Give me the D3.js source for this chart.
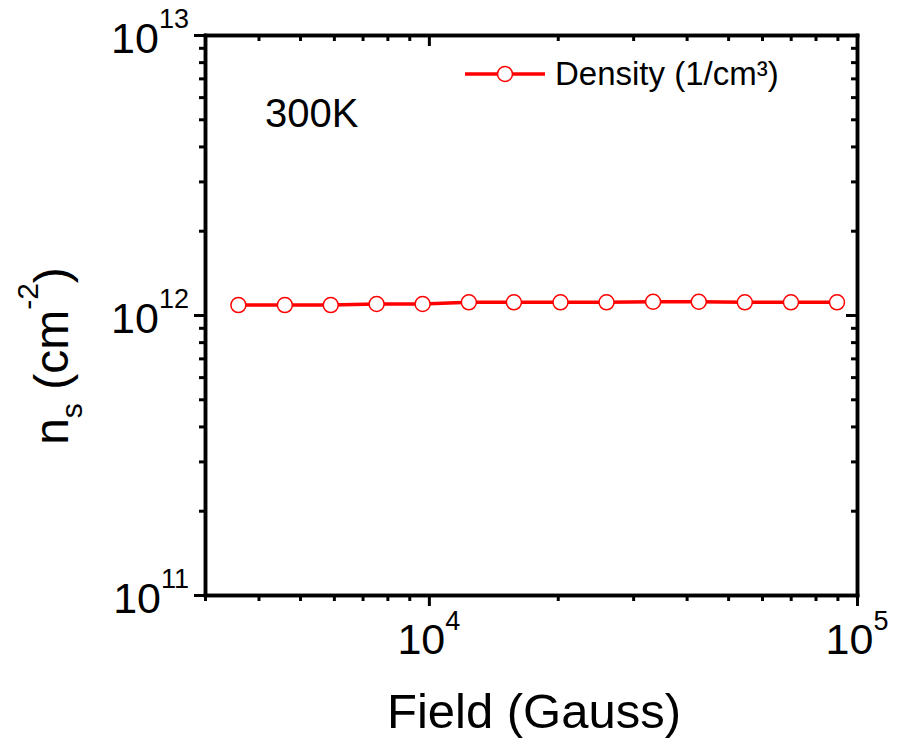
<!DOCTYPE html>
<html>
<head>
<meta charset="utf-8">
<script src="https://cdn.jsdelivr.net/npm/d3@7"></script>
<style>
  body { margin: 0; background: #fff; }
  svg { display: block; font-family: "Liberation Sans", Arial, sans-serif; }
</style>
</head>
<body>
<svg id="chart"></svg>
<script>
// field (Gauss) and sheet density (cm^-2)
const fields  = [3590, 4610, 5900, 7550, 9670, 12400, 15800, 20300, 26000, 33400, 42700, 54700, 70100, 89800];
const density = [1.085e12, 1.085e12, 1.085e12, 1.095e12, 1.095e12, 1.11e12, 1.11e12, 1.11e12, 1.11e12, 1.115e12, 1.115e12, 1.11e12, 1.11e12, 1.11e12];

const xMajor = [1e4, 1e5];
const xMinor = [3000, 4000, 5000, 6000, 7000, 8000, 9000, 20000, 30000, 40000, 50000, 60000, 70000, 80000, 90000];
const yMajor = [1e11, 1e12, 1e13];
const yMinor = [2e11, 3e11, 4e11, 5e11, 6e11, 7e11, 8e11, 9e11, 2e12, 3e12, 4e12, 5e12, 6e12, 7e12, 8e12, 9e12];

const seriesName = 'Density (1/cm³)';
const tempLabel = '300K';

const width = 903, height = 744;
const margin = { top: 35, right: 46, bottom: 149, left: 205 };
const innerW = width - margin.left - margin.right;
const innerH = height - margin.top - margin.bottom;

const svg = d3.select('#chart')
    .attr('width', width)
    .attr('height', height);

const chart = svg.append('g')
    .attr('transform', `translate(${margin.left}, ${margin.top})`);

const xscale = d3.scaleLog().domain([3000, 1e5]).range([0, innerW]);
const yscale = d3.scaleLog().domain([1e11, 1e13]).range([innerH, 0]);

const data = fields.map((f, i) => ({ field: f, n: density[i] }));

function styleAxis(g) {
    g.selectAll('path.domain')
        .attr('stroke', '#000')
        .attr('stroke-width', 3.5)
        .attr('stroke-linecap', 'square');
    g.selectAll('.tick line')
        .attr('stroke', '#000')
        .attr('stroke-width', 3);
    g.selectAll('.tick text').remove();
}

// bottom & top (top ticks point down into the plot, like the original)
[innerH, 0].forEach(y => {
    chart.append('g')
        .attr('transform', `translate(0, ${y})`)
        .call(d3.axisBottom(xscale).tickValues(xMinor).tickSize(6).tickSizeOuter(0).tickFormat(''))
        .call(styleAxis);
    chart.append('g')
        .attr('transform', `translate(0, ${y})`)
        .call(d3.axisBottom(xscale).tickValues(xMajor).tickSize(11).tickSizeOuter(0).tickFormat(''))
        .call(styleAxis);
});

// left & right (right ticks point left into the plot)
[0, innerW].forEach(x => {
    chart.append('g')
        .attr('transform', `translate(${x}, 0)`)
        .call(d3.axisLeft(yscale).tickValues(yMinor).tickSize(6).tickSizeOuter(0).tickFormat(''))
        .call(styleAxis);
    chart.append('g')
        .attr('transform', `translate(${x}, 0)`)
        .call(d3.axisLeft(yscale).tickValues(yMajor).tickSize(11).tickSizeOuter(0).tickFormat(''))
        .call(styleAxis);
});

// tick labels with superscript exponents
const xl = chart.selectAll('text.xlab')
    .data(xMajor)
    .enter()
    .append('text')
    .attr('class', 'xlab')
    .attr('x', d => xscale(d))
    .attr('y', innerH + 59)
    .attr('text-anchor', 'middle')
    .attr('font-size', 43);
xl.append('tspan').text('10');
xl.append('tspan').attr('font-size', 27).attr('dy', -24).text(d => Math.round(Math.log10(d)));

const yl = chart.selectAll('text.ylab')
    .data(yMajor)
    .enter()
    .append('text')
    .attr('class', 'ylab')
    .attr('x', -16)
    .attr('y', d => yscale(d) + 18)
    .attr('text-anchor', 'end')
    .attr('font-size', 43);
yl.append('tspan').text('10');
yl.append('tspan').attr('font-size', 27).attr('dy', -25).text(d => Math.round(Math.log10(d)));

// axis titles
svg.append('text')
    .attr('x', 534)
    .attr('y', 728)
    .attr('text-anchor', 'middle')
    .attr('font-size', 49)
    .text('Field (Gauss)');

const ytitle = svg.append('text')
    .attr('transform', 'translate(68, 356) rotate(-90)')
    .attr('text-anchor', 'middle')
    .attr('font-size', 48);
ytitle.append('tspan').text('n');
ytitle.append('tspan').attr('font-size', 30).attr('dy', 14).text('s');
ytitle.append('tspan').attr('dy', -14).text(' (cm');
ytitle.append('tspan').attr('font-size', 30).attr('dy', -30).text('-2');
ytitle.append('tspan').attr('dy', 30).text(')');

// series
const line = d3.line()
    .x(d => xscale(d.field))
    .y(d => yscale(d.n));

chart.append('path')
    .attr('d', line(data))
    .attr('fill', 'none')
    .attr('stroke', '#ff0000')
    .attr('stroke-width', 3.5);

chart.selectAll('circle.pt')
    .data(data)
    .enter()
    .append('circle')
    .attr('class', 'pt')
    .attr('cx', d => xscale(d.field))
    .attr('cy', d => yscale(d.n))
    .attr('r', 7.5)
    .attr('fill', '#fff')
    .attr('stroke', '#ff0000')
    .attr('stroke-width', 1.5);

// annotation
svg.append('text')
    .attr('x', 265)
    .attr('y', 127)
    .attr('font-size', 40)
    .text(tempLabel);

// legend
const legend = svg.append('g').attr('transform', 'translate(465, 74)');
legend.append('line')
    .attr('x1', 0).attr('x2', 80)
    .attr('y1', 0).attr('y2', 0)
    .attr('stroke', '#ff0000')
    .attr('stroke-width', 3.5);
legend.append('circle')
    .attr('cx', 40).attr('cy', 0).attr('r', 7.5)
    .attr('fill', '#fff')
    .attr('stroke', '#ff0000')
    .attr('stroke-width', 1.5);
legend.append('text')
    .attr('x', 90)
    .attr('y', 11)
    .attr('font-size', 33)
    .text(seriesName);
</script>
</body>
</html>
